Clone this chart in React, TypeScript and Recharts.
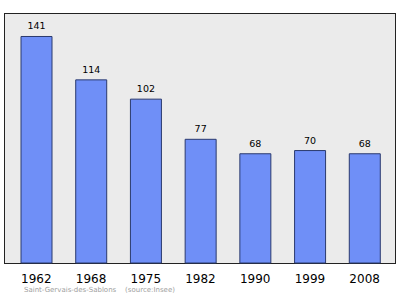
import { BarChart, Bar, XAxis, YAxis, LabelList } from "recharts";

const years = ["1962", "1968", "1975", "1982", "1990", "1999", "2008"];
const population = [141, 114, 102, 77, 68, 70, 68];

const data = years.map((year, i) => ({ year, value: population[i] }));

export default function App() {
  return (
    <div
      style={{
        position: "absolute",
        left: 0,
        top: 0,
        width: 400,
        height: 299,
        background: "#fff",
        fontFamily: "DejaVu Sans",
      }}
    >
      <div
        style={{
          position: "absolute",
          left: 4,
          top: 13,
          width: 392,
          height: 251,
          boxSizing: "border-box",
          border: "1.5px solid #222",
          background: "#ebebeb",
        }}
      />
      <div style={{ position: "absolute", left: 0, top: 0 }}>
        <BarChart
          width={400}
          height={299}
          data={data}
          margin={{ top: 14, right: 5, bottom: 0, left: 4 }}
        >
          <XAxis
            dataKey="year"
            height={36}
            axisLine={false}
            tickLine={false}
            tickMargin={5}
            padding={{ left: 5, right: 3 }}
            tick={{ fill: "#000", fontSize: 12, fontFamily: "DejaVu Sans" }}
          />
          <YAxis hide domain={[0, 155]} />
          <Bar
            dataKey="value"
            fill="#6f8ff7"
            stroke="#2b3a6e"
            strokeWidth={1}
            barSize={31}
            isAnimationActive={false}
          >
            <LabelList
              dataKey="value"
              position="top"
              offset={7}
              fill="#000"
              fontSize={9.5}
              fontFamily="DejaVu Sans"
            />
          </Bar>
        </BarChart>
      </div>
      <div
        style={{
          position: "absolute",
          left: 24,
          top: 286,
          fontSize: 7,
          color: "#a0a0a0",
          whiteSpace: "pre",
          lineHeight: "9px",
        }}
      >
        {"Saint-Gervais-des-Sablons    (source:Insee)"}
      </div>
    </div>
  );
}
